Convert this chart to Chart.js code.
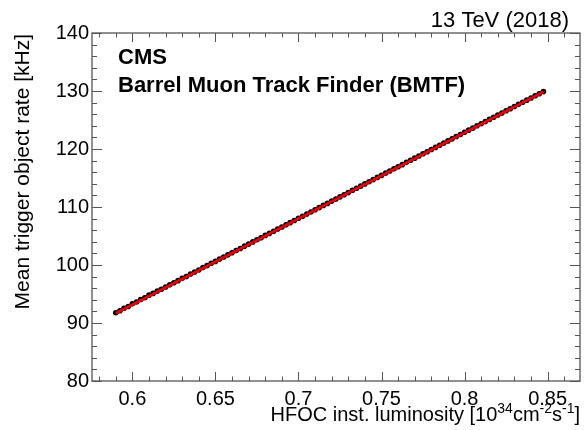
<!DOCTYPE html>
<html>
<head>
<meta charset="utf-8">
<script src="https://cdn.jsdelivr.net/npm/chart.js@4/dist/chart.umd.min.js"></script>
<style>
  html, body { margin: 0; padding: 0; background: #fff; }
  #wrap { width: 586px; height: 430px; position: relative; }
</style>
</head>
<body>
<div id="wrap"><canvas id="c" width="586" height="430"></canvas></div>
<script>
// ---- data ----
const lumi = [0.5900, 0.5925, 0.5950, 0.5975, 0.6000, 0.6025, 0.6050, 0.6075, 0.6100, 0.6125,
  0.6150, 0.6175, 0.6200, 0.6225, 0.6250, 0.6275, 0.6300, 0.6325, 0.6350, 0.6375,
  0.6400, 0.6425, 0.6450, 0.6475, 0.6500, 0.6525, 0.6550, 0.6575, 0.6600, 0.6625,
  0.6650, 0.6675, 0.6700, 0.6725, 0.6750, 0.6775, 0.6800, 0.6825, 0.6850, 0.6875,
  0.6900, 0.6925, 0.6950, 0.6975, 0.7000, 0.7025, 0.7050, 0.7075, 0.7100, 0.7125,
  0.7150, 0.7175, 0.7200, 0.7225, 0.7250, 0.7275, 0.7300, 0.7325, 0.7350, 0.7375,
  0.7400, 0.7425, 0.7450, 0.7475, 0.7500, 0.7525, 0.7550, 0.7575, 0.7600, 0.7625,
  0.7650, 0.7675, 0.7700, 0.7725, 0.7750, 0.7775, 0.7800, 0.7825, 0.7850, 0.7875,
  0.7900, 0.7925, 0.7950, 0.7975, 0.8000, 0.8025, 0.8050, 0.8075, 0.8100, 0.8125,
  0.8150, 0.8175, 0.8200, 0.8225, 0.8250, 0.8275, 0.8300, 0.8325, 0.8350, 0.8375,
  0.8400, 0.8425, 0.8450, 0.8475];
const rate = [91.78, 92.10, 92.55, 92.85, 93.30, 93.62, 94.05, 94.35, 94.80, 95.10,
  95.50, 95.82, 96.20, 96.58, 96.95, 97.30, 97.70, 98.02, 98.45, 98.80,
  99.15, 99.55, 99.90, 100.30, 100.62, 101.02, 101.38, 101.75, 102.12, 102.50,
  102.85, 103.25, 103.60, 103.98, 104.35, 104.70, 105.10, 105.45, 105.82, 106.20,
  106.55, 106.95, 107.30, 107.68, 108.05, 108.40, 108.80, 109.15, 109.52, 109.90,
  110.28, 110.62, 111.02, 111.38, 111.75, 112.12, 112.48, 112.88, 113.22, 113.60,
  113.98, 114.35, 114.72, 115.10, 115.45, 115.85, 116.20, 116.58, 116.95, 117.30,
  117.70, 118.05, 118.42, 118.80, 119.18, 119.52, 119.92, 120.28, 120.65, 121.02,
  121.40, 121.75, 122.15, 122.50, 122.88, 123.25, 123.60, 124.00, 124.35, 124.72,
  125.10, 125.48, 125.85, 126.20, 126.60, 126.95, 127.32, 127.70, 128.05, 128.42,
  128.80, 129.18, 129.52, 129.90];
const fitLumi = [0.5900, 0.8475];
const fitRate = [91.68, 129.87];

const xTicks = [0.6, 0.65, 0.7, 0.75, 0.8, 0.85];
const xTickLabels = ["0.6", "0.65", "0.7", "0.75", "0.8", "0.85"];
const yTicks = [80, 90, 100, 110, 120, 130, 140];
const yTickLabels = ["80", "90", "100", "110", "120", "130", "140"];
const xRange = [0.5757, 0.8695];
const yRange = [80, 140];
const xMinorStep = 0.01;
const yMinorStep = 2;

const xTitle = ["HFOC inst. luminosity [10", "34", "cm", "-2", "s", "-1", "]"];
const yTitle = "Mean trigger object rate [kHz]";
const energyLabel = "13 TeV (2018)";
const cmsLabel = "CMS";
const subLabel = "Barrel Muon Track Finder (BMTF)";

const FONT = "'Liberation Sans', Arial, Helvetica, sans-serif";

const points = lumi.map((x, i) => ({ x: x, y: rate[i] }));
const fitPts = fitLumi.map((x, i) => ({ x: x, y: fitRate[i] }));

const rootPlugin = {
  id: 'rootStyle',
  afterDraw(chart) {
    const ctx = chart.ctx;
    const a = chart.chartArea;
    const xs = chart.scales.x, ys = chart.scales.y;
    ctx.save();
    ctx.strokeStyle = '#555';
    ctx.lineWidth = 1.3;
    ctx.strokeRect(a.left, a.top, a.right - a.left, a.bottom - a.top);
    ctx.beginPath();
    const x0 = Math.ceil(xRange[0] / xMinorStep - 1e-9) * xMinorStep;
    for (let v = x0; v <= xRange[1] + 1e-9; v += xMinorStep) {
      const vv = Math.round(v * 1000) / 1000;
      const isMajor = xTicks.some(t => Math.abs(t - vv) < 1e-6);
      const len = isMajor ? 9 : 4.5;
      const px = Math.round(xs.getPixelForValue(vv)) + 0.5;
      ctx.moveTo(px, a.bottom); ctx.lineTo(px, a.bottom - len);
      ctx.moveTo(px, a.top); ctx.lineTo(px, a.top + len);
    }
    for (let v = yRange[0]; v <= yRange[1] + 1e-9; v += yMinorStep) {
      const isMajor = yTicks.includes(v);
      const len = isMajor ? 10 : 5;
      const py = Math.round(ys.getPixelForValue(v)) + 0.5;
      ctx.moveTo(a.left, py); ctx.lineTo(a.left + len, py);
      ctx.moveTo(a.right, py); ctx.lineTo(a.right - len, py);
    }
    ctx.lineWidth = 1;
    ctx.stroke();

    ctx.fillStyle = '#000';
    ctx.font = '22px ' + FONT;
    ctx.textAlign = 'right';
    ctx.textBaseline = 'alphabetic';
    ctx.fillText(energyLabel, 569, 27);
    ctx.font = 'bold 22px ' + FONT;
    ctx.textAlign = 'left';
    ctx.fillText(cmsLabel, 118, 64);
    ctx.fillText(subLabel, 118, 92);

    ctx.save();
    ctx.translate(29, a.top + 1);
    ctx.rotate(-Math.PI / 2);
    ctx.font = '21px ' + FONT;
    ctx.textAlign = 'right';
    ctx.textBaseline = 'alphabetic';
    ctx.fillText(yTitle, 0, 0);
    ctx.restore();

    const big = '20px ' + FONT, small = '14px ' + FONT;
    const parts = xTitle.map((t, i) => ({ t: t, sup: (i % 2 === 1) }));
    let total = 0;
    parts.forEach(p => { ctx.font = p.sup ? small : big; p.w = ctx.measureText(p.t).width; total += p.w; });
    let cx = a.right - total;
    const base = 421;
    parts.forEach(p => {
      ctx.font = p.sup ? small : big;
      ctx.textAlign = 'left';
      ctx.fillText(p.t, cx, p.sup ? base - 8 : base);
      cx += p.w;
    });
    ctx.restore();
  }
};

new Chart(document.getElementById('c'), {
  type: 'scatter',
  data: {
    datasets: [
      {
        type: 'line',
        data: fitPts,
        borderColor: '#e8000b',
        borderWidth: 2.6,
        pointRadius: 0,
        fill: false,
        order: 0
      },
      {
        type: 'scatter',
        data: points,
        backgroundColor: '#000',
        borderWidth: 0,
        pointRadius: 2.8,
        order: 1
      }
    ]
  },
  options: {
    responsive: false,
    animation: false,
    events: [],
    layout: { padding: { left: 0, right: 6, top: 33, bottom: 0 } },
    plugins: { legend: { display: false }, tooltip: { enabled: false }, title: { display: false } },
    scales: {
      x: {
        type: 'linear',
        min: xRange[0], max: xRange[1],
        afterBuildTicks: s => { s.ticks = xTicks.map(v => ({ value: v })); },
        afterFit: s => { s.height = 49; },
        grid: { display: false, drawTicks: false },
        border: { display: false },
        ticks: {
          color: '#000',
          font: { family: FONT, size: 20 },
          padding: 6,
          maxRotation: 0,
          autoSkip: false,
          callback: (v, i) => xTickLabels[i]
        }
      },
      y: {
        type: 'linear',
        min: yRange[0], max: yRange[1],
        afterBuildTicks: s => { s.ticks = yTicks.map(v => ({ value: v })); },
        afterFit: s => { s.width = 92; },
        grid: { display: false, drawTicks: false },
        border: { display: false },
        ticks: {
          color: '#000',
          font: { family: FONT, size: 20 },
          padding: 3,
          autoSkip: false,
          callback: (v, i) => yTickLabels[i]
        }
      }
    }
  },
  plugins: [rootPlugin]
});
</script>
</body>
</html>
